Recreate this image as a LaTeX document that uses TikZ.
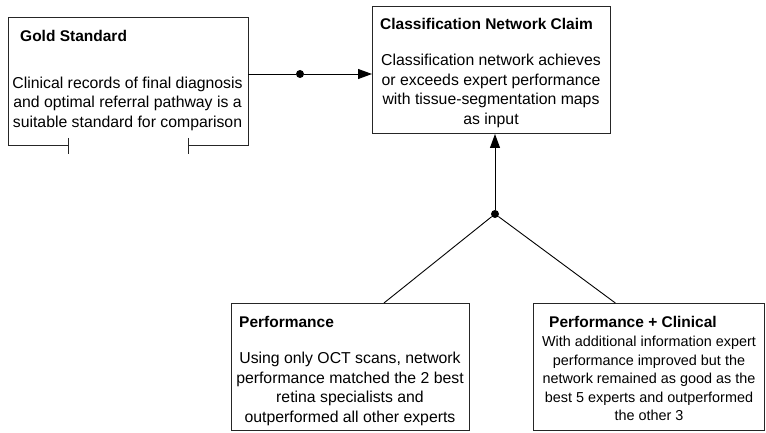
\documentclass[tikz,border=0pt]{standalone}
\usepackage{fontspec}
\setmainfont{Liberation Sans}
\usetikzlibrary{arrows.meta,calc}

\tikzset{
  box/.style={rectangle, draw=black!85, line width=1pt, inner sep=0pt, anchor=north west},
  heading/.style={font=\fontsize{15.5}{19}\selectfont\bfseries, inner sep=0pt, anchor=west},
  bodytext/.style={font=\fontsize{15.8}{19.5}\selectfont, align=center, inner sep=0pt},
  smalltext/.style={font=\fontsize{14.4}{18.4}\selectfont, align=center, inner sep=0pt},
  outline/.style={line width=1pt, draw=black!85},
  link/.style={line width=0.9pt, draw=black},
  tip/.style={-{Triangle[length=14pt,width=10pt]}},
  joint/.style={circle, fill=black, inner sep=0pt, minimum size=8pt}
}

\begin{document}
\begin{tikzpicture}[x=1pt,y=-1pt]
  \useasboundingbox (0,0) rectangle (766,433);
  \clip (0,0) rectangle (766,433);

  % boxes
  \node[box, draw=none, minimum width=239pt, minimum height=127pt] (gold) at (8,18) {};
  \node[box, minimum width=238pt, minimum height=127pt] (claim) at (372,6) {};
  \node[box, minimum width=238pt, minimum height=127pt] (perf) at (231,303) {};
  \node[box, minimum width=231pt, minimum height=127pt] (pc) at (533,303) {};

  % open-bottomed outline of the gold standard box
  \draw[outline] ($(gold.south west)+(60,0)$) -- (gold.south west) -- (gold.north west)
    -- (gold.north east) -- (gold.south east) -- ($(gold.south east)+(-60,0)$);
  \draw[outline] ($(gold.south west)+(60,-8)$) -- ($(gold.south west)+(60,8)$);
  \draw[outline] ($(gold.south east)+(-60,-8)$) -- ($(gold.south east)+(-60,8)$);

  % texts
  \node[heading] (goldT) at (20,36) {Gold Standard};
  \node[bodytext] (goldB) at (127.5,103.5) {Clinical records of final diagnosis\\and optimal referral pathway is a\\suitable standard for comparison};

  \node[heading] (claimT) at (380,24) {Classification Network Claim};
  \node[bodytext] (claimB) at (491,91) {Classification network achieves\\or exceeds expert performance\\with tissue-segmentation maps\\as input};

  \node[heading] (perfT) at (239,322) {Performance};
  \node[bodytext] (perfB) at (350,389) {Using only OCT scans, network\\performance matched the 2 best\\retina specialists and\\outperformed all other experts};

  \node[heading] (pcT) at (549,322) {Performance + Clinical};
  \node[smalltext] (pcB) at (649,378.5) {With additional information expert\\performance improved but the\\network remained as good as the\\best 5 experts and outperformed\\the other 3};

  % junction points
  \node[joint] (d1) at (300,74) {};
  \node[joint] (j) at (495,214) {};

  % connectors
  \draw[link] (gold.east |- d1) -- (d1);
  \draw[link, tip] (d1) -- (claim.west |- d1);
  \draw[link, tip] (j) -- (claim.south -| j);
  \draw[link] (j) -- ($(perf.north west)!0.64!(perf.north east)$);
  \draw[link] (j) -- ($(pc.north west)!0.355!(pc.north east)$);
\end{tikzpicture}
\end{document}
